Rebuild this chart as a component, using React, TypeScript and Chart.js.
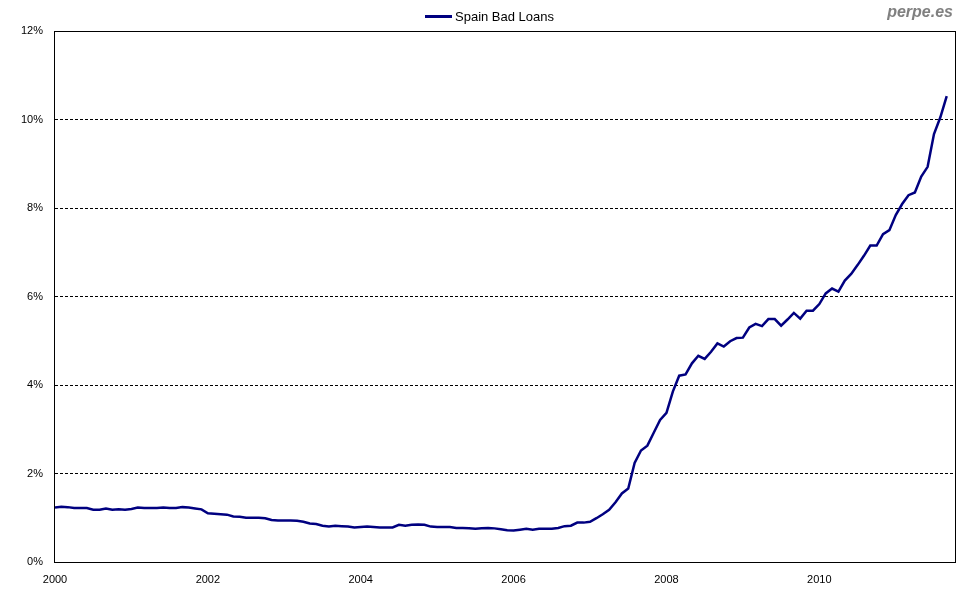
import React, { useEffect, useRef } from "react";
import { Chart, registerables } from "chart.js";

Chart.register(...registerables);

// Monthly series, Jan 2000 .. Sep 2011 (percent)
const startYear = 2000;
const seriesLabel = "Spain Bad Loans";
const watermark = "perpe.es";
const badLoans: number[] = [
  1.23, 1.25, 1.24, 1.22, 1.22, 1.22, 1.18, 1.18, 1.21, 1.18, 1.19, 1.18,
  1.2, 1.23, 1.22, 1.22, 1.22, 1.23, 1.22, 1.22, 1.24, 1.23, 1.21, 1.19,
  1.1, 1.09, 1.08, 1.07, 1.03, 1.02, 1.0, 1.0, 1.0, 0.99, 0.95, 0.94,
  0.94, 0.94, 0.93, 0.91, 0.87, 0.86, 0.82, 0.8, 0.82, 0.81, 0.8, 0.78,
  0.79, 0.8, 0.79, 0.78, 0.78, 0.78, 0.84, 0.82, 0.84, 0.85, 0.84, 0.8,
  0.79, 0.79, 0.79, 0.77, 0.77, 0.76, 0.75, 0.76, 0.77, 0.76, 0.74, 0.72,
  0.71, 0.73, 0.75, 0.73, 0.75, 0.75, 0.75, 0.77, 0.81, 0.82, 0.89, 0.89,
  0.91, 0.99, 1.08, 1.18, 1.35, 1.55, 1.66, 2.24, 2.52, 2.63, 2.92, 3.21,
  3.37, 3.85, 4.21, 4.24, 4.49, 4.66, 4.59, 4.75, 4.94, 4.87, 4.99, 5.06,
  5.07, 5.3, 5.38, 5.33, 5.49, 5.49, 5.34, 5.48, 5.63, 5.5, 5.68, 5.68,
  5.83, 6.07, 6.18, 6.11, 6.36, 6.51, 6.71, 6.92, 7.15, 7.15, 7.41, 7.5,
  7.84, 8.09, 8.29, 8.35, 8.71, 8.93, 9.67, 10.05, 10.53,
];
const yTicks = [0, 2, 4, 6, 8, 10, 12];
const xTickYears = [2000, 2002, 2004, 2006, 2008, 2010];

const FONT = "'Liberation Sans', Arial, sans-serif";
const NAVY = "#000080";

export default function App() {
  const ref = useRef<HTMLCanvasElement | null>(null);

  useEffect(() => {
    if (!ref.current) return;
    const points = badLoans.map((v, i) => ({ x: i, y: v }));

    const frame = {
      id: "frame",
      afterDatasetsDraw(chart: any) {
        const { ctx, chartArea: a } = chart;
        ctx.save();
        ctx.strokeStyle = "#000";
        ctx.lineWidth = 1;
        ctx.setLineDash([]);
        ctx.strokeRect(Math.round(a.left) - 0.5, Math.round(a.top) + 0.5, Math.round(a.right - a.left) + 1, Math.round(a.bottom - a.top));
        ctx.restore();
      },
      afterDraw(chart: any) {
        const { ctx } = chart;
        ctx.save();
        // legend
        ctx.strokeStyle = NAVY;
        ctx.lineWidth = 3;
        ctx.beginPath();
        ctx.moveTo(425, 16.5);
        ctx.lineTo(452, 16.5);
        ctx.stroke();
        ctx.fillStyle = "#000";
        ctx.font = `13px ${FONT}`;
        ctx.textBaseline = "middle";
        ctx.textAlign = "left";
        ctx.fillText(seriesLabel, 455, 17);
        // watermark
        ctx.fillStyle = "#808080";
        ctx.font = `italic bold 16px ${FONT}`;
        ctx.textAlign = "right";
        ctx.fillText(watermark, 953, 13);
        ctx.restore();
      },
    };

    const chart = new Chart(ref.current, {
      type: "line",
      data: {
        datasets: [
          {
            label: seriesLabel,
            data: points,
            borderColor: NAVY,
            backgroundColor: NAVY,
            borderWidth: 2.5,
            pointRadius: 0,
            tension: 0,
            fill: false,
          },
        ],
      },
      options: {
        animation: false,
        responsive: false,
        devicePixelRatio: 1,
        layout: { padding: { left: 0, right: 16, top: 31, bottom: 0 } },
        plugins: { legend: { display: false }, tooltip: { enabled: false } },
        scales: {
          x: {
            type: "linear",
            min: 0,
            max: 141.3,
            afterFit: (s: any) => {
              s.height = 32;
            },
            afterBuildTicks: (s: any) => {
              s.ticks = xTickYears.map((y) => ({ value: (y - startYear) * 12 }));
            },
            ticks: {
              autoSkip: false,
              maxRotation: 0,
              padding: 11,
              color: "#000",
              font: { family: FONT, size: 11 },
              callback: (v: any) => String(startYear + Math.round(Number(v) / 12)),
            },
            grid: { display: false, drawTicks: false },
            border: { display: false },
          },
          y: {
            min: 0,
            max: 12,
            afterFit: (s: any) => {
              s.width = 55;
            },
            afterBuildTicks: (s: any) => {
              s.ticks = yTicks.map((v) => ({ value: v }));
            },
            ticks: {
              padding: 12,
              color: "#000",
              font: { family: FONT, size: 11 },
              callback: (v: any) => `${v}%`,
            },
            grid: {
              drawTicks: false,
              lineWidth: 1,
              color: (c: any) =>
                c.tick && (c.tick.value === 0 || c.tick.value === 12) ? "rgba(0,0,0,0)" : "#000",
            },
            border: { display: false, dash: [3, 2] },
          },
        },
      },
      plugins: [frame],
    });
    return () => chart.destroy();
  }, []);

  return (
    <div style={{ position: "fixed", left: 0, top: 0, width: 971, height: 594, background: "#fff" }}>
      <canvas ref={ref} width={971} height={594} style={{ width: 971, height: 594, display: "block" }} />
    </div>
  );
}
